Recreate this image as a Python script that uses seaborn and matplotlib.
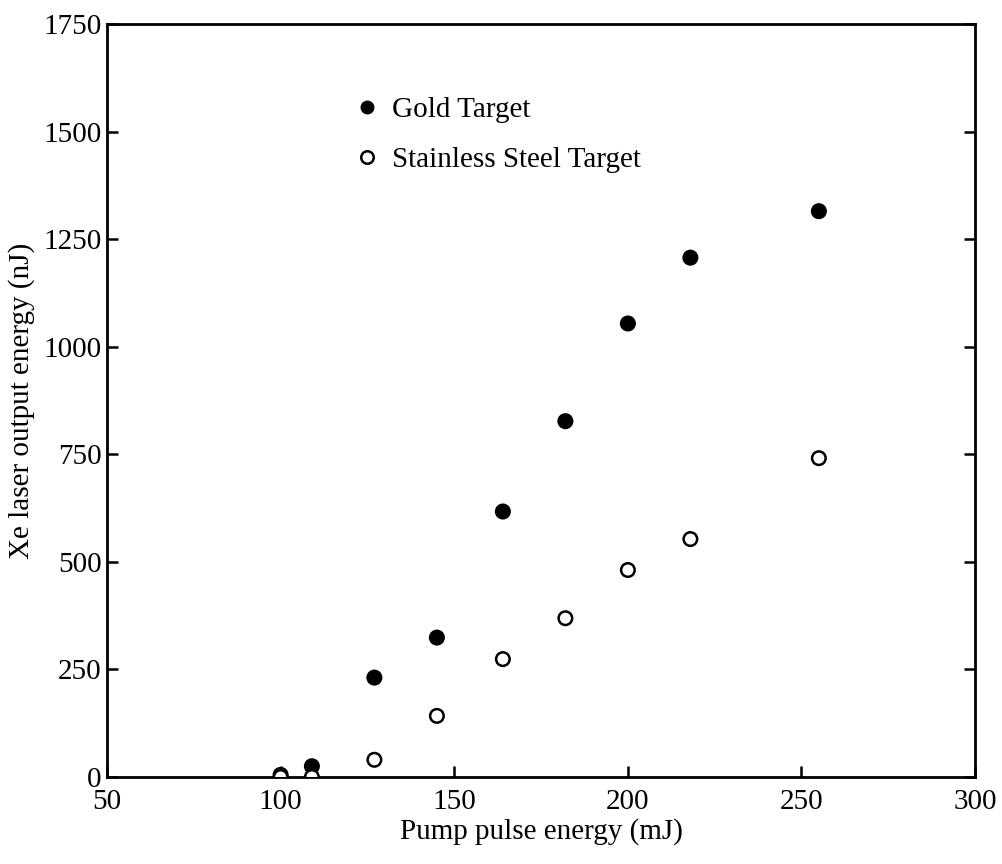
import pandas as pd
import seaborn as sns
import matplotlib
matplotlib.use("Agg")
import matplotlib.pyplot as plt

# pump pulse energy (mJ)
pump = [100, 109, 127, 145, 164, 182, 200, 218, 255]
# Xe laser output energy (nJ)
gold = [5, 25, 231, 324, 617, 827, 1054, 1207, 1315]
steel = [0, 0, 40, 142, 274, 369, 481, 553, 741]

df = pd.concat([
    pd.DataFrame({"pump": pump, "energy": gold, "target": "Gold Target"}),
    pd.DataFrame({"pump": pump, "energy": steel, "target": "Stainless Steel Target"}),
])

sns.set_style("ticks")
plt.rcParams['font.family'] = ['Liberation Serif', 'DejaVu Serif']
plt.rcParams['text.color'] = 'black'
plt.rcParams['axes.labelcolor'] = 'black'
plt.rcParams['xtick.color'] = 'black'
plt.rcParams['ytick.color'] = 'black'
plt.rcParams['axes.edgecolor'] = 'black'

fig = plt.figure(figsize=(10.03, 8.64), dpi=100)
ax = fig.add_axes([0.1067, 0.1007, 0.8655, 0.8715])

sns.scatterplot(data=df, x="pump", y="energy", hue="target", style="target",
                palette={"Gold Target": "black", "Stainless Steel Target": "black"},
                markers={"Gold Target": "o", "Stainless Steel Target": "o"},
                s=95, linewidth=1.8, legend=False, ax=ax, zorder=3)
# open circles for the steel target
coll = ax.collections[0]
fc = []
for t in df["target"]:
    fc.append((0, 0, 0, 1) if t == "Gold Target" else (1, 1, 1, 1))
coll.set_facecolors(fc)
coll.set_edgecolors("black")

ax.set_xlim(50, 300)
ax.set_ylim(0, 1750)
ax.set_xticks([50, 100, 150, 200, 250, 300])
ax.set_yticks([0, 250, 500, 750, 1000, 1250, 1500, 1750])
ax.tick_params(direction="in", length=8, width=1.8, right=True,
               labelsize=21, pad=4)
ax.tick_params(axis="x", pad=9)
for sp in ax.spines.values():
    sp.set_linewidth(2)
    sp.set_visible(True)
ax.set_xlabel("Pump pulse energy (mJ)", fontsize=21, labelpad=2)
ax.set_ylabel("Xe laser output energy (nJ)", fontsize=21, labelpad=6)

h1 = plt.Line2D([], [], marker="o", ls="", color="black", markersize=9)
h2 = plt.Line2D([], [], marker="o", ls="", markerfacecolor="white",
                markeredgecolor="black", markeredgewidth=1.8, markersize=9)
ax.legend([h1, h2], ["Gold Target", "Stainless Steel Target"], loc="upper left",
          bbox_to_anchor=(0.273, 0.919), frameon=False, fontsize=21,
          handlelength=0.8, handletextpad=0.45, labelspacing=0.8, borderaxespad=0)

fig.savefig("out.png", dpi=100)
